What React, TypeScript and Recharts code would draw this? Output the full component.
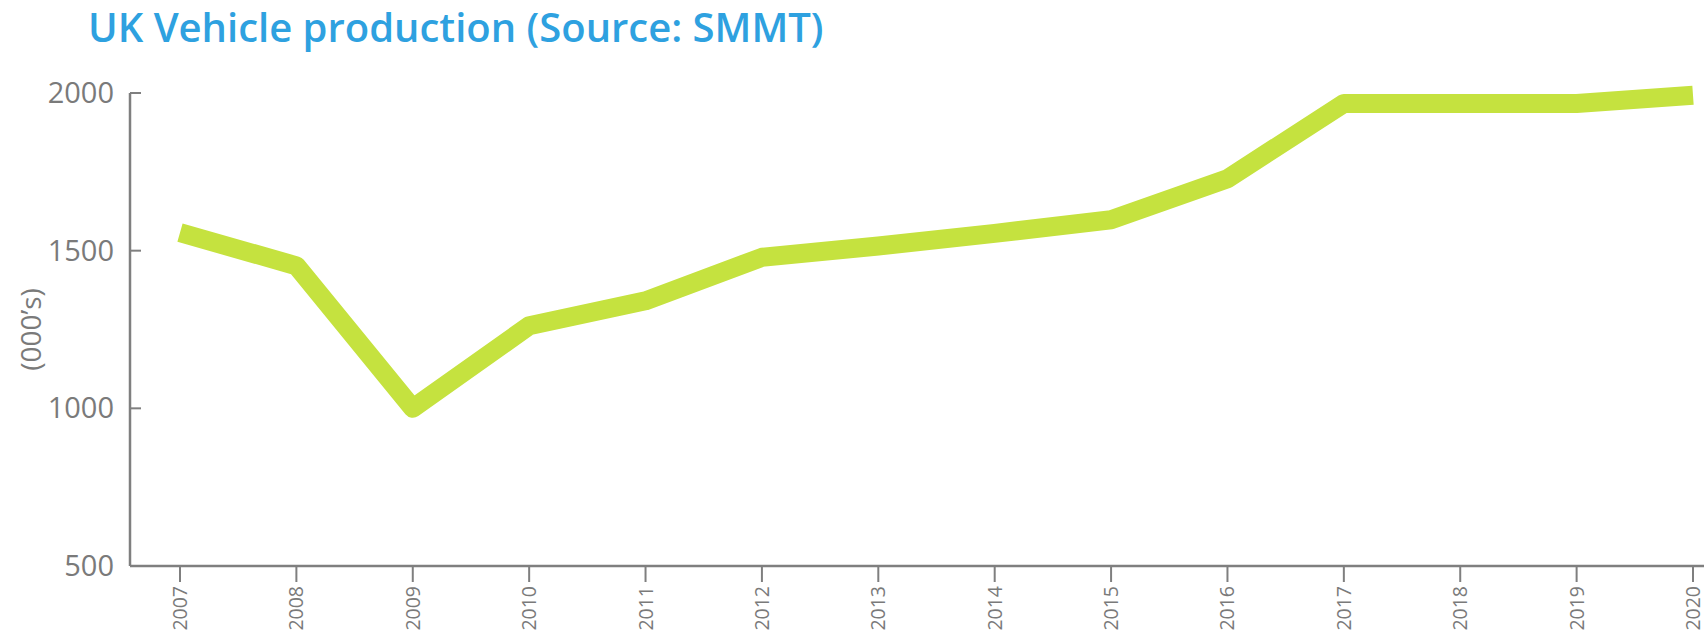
import React from 'react';
import { LineChart, Line, XAxis, YAxis } from 'recharts';

const years = ['2007', '2008', '2009', '2010', '2011', '2012', '2013', '2014', '2015', '2016', '2017', '2018', '2019', '2020'];
const production = [1557, 1452, 1000, 1262, 1341, 1479, 1515, 1555, 1598, 1728, 1967, 1967, 1967, 1993];
const yTicks = [500, 1000, 1500, 2000];

const AXIS_GREY = '#7f7f7f';
const LINE_GREEN = '#c5e23f';
const TITLE_BLUE = '#2ea1e0';

const data = years.map((year, i) => ({ year, value: production[i] }));

const YTick: React.FC<any> = ({ x, y, payload }) => (
    <g>
        <line x1={x} y1={y} x2={x + 11} y2={y} stroke={AXIS_GREY} strokeWidth={2} />
        <text x={x - 16} y={y} dy={10} textAnchor="end" fill="#7a7a7a" fontSize={29} fontFamily="'Open Sans', sans-serif">
            {payload.value}
        </text>
    </g>
);

const XTick: React.FC<any> = ({ x, y, payload }) => (
    <text
        x={x}
        y={y}
        dy={7}
        transform={`rotate(-90, ${x}, ${y})`}
        textAnchor="end"
        fill="#7a7a7a"
        fontSize={19.5}
        fontFamily="'Open Sans', sans-serif"
    >
        {payload.value}
    </text>
);

export default function App() {
    return (
        <div style={{ position: 'relative', width: 1704, height: 636, background: '#fff' }}>
            <style>{'body{margin:0}'}</style>
            <div
                style={{
                    position: 'absolute',
                    left: 88,
                    top: 0,
                    fontFamily: "'Open Sans', sans-serif",
                    fontWeight: 600,
                    fontSize: 40,
                    lineHeight: '54px',
                    color: TITLE_BLUE,
                    whiteSpace: 'nowrap',
                }}
            >
                UK Vehicle production (Source: SMMT)
            </div>
            <LineChart width={1704} height={636} data={data} margin={{ top: 93, right: 0, bottom: 0, left: 0 }}>
                <XAxis
                    dataKey="year"
                    height={70}
                    padding={{ left: 50, right: 11 }}
                    interval={0}
                    stroke={AXIS_GREY}
                    axisLine={{ stroke: AXIS_GREY, strokeWidth: 2.5 }}
                    tickLine={{ stroke: AXIS_GREY, strokeWidth: 2 }}
                    tickSize={16}
                    tickMargin={4}
                    tick={<XTick />}
                />
                <YAxis
                    width={130}
                    domain={[500, 2000]}
                    ticks={yTicks}
                    interval={0}
                    tickSize={0}
                    tickMargin={0}
                    axisLine={{ stroke: AXIS_GREY, strokeWidth: 2.5 }}
                    tickLine={false}
                    tick={<YTick />}
                    label={{
                        value: '(000’s)',
                        angle: -90,
                        position: 'insideLeft',
                        dx: 26,
                        fill: '#7a7a7a',
                        fontSize: 28,
                        fontFamily: "'Open Sans', sans-serif",
                        style: { textAnchor: 'middle' },
                    }}
                />
                <Line
                    type="linear"
                    dataKey="value"
                    stroke={LINE_GREEN}
                    strokeWidth={19}
                    strokeLinejoin="round"
                    strokeLinecap="butt"
                    dot={false}
                    activeDot={false}
                    isAnimationActive={false}
                />
            </LineChart>
        </div>
    );
}
